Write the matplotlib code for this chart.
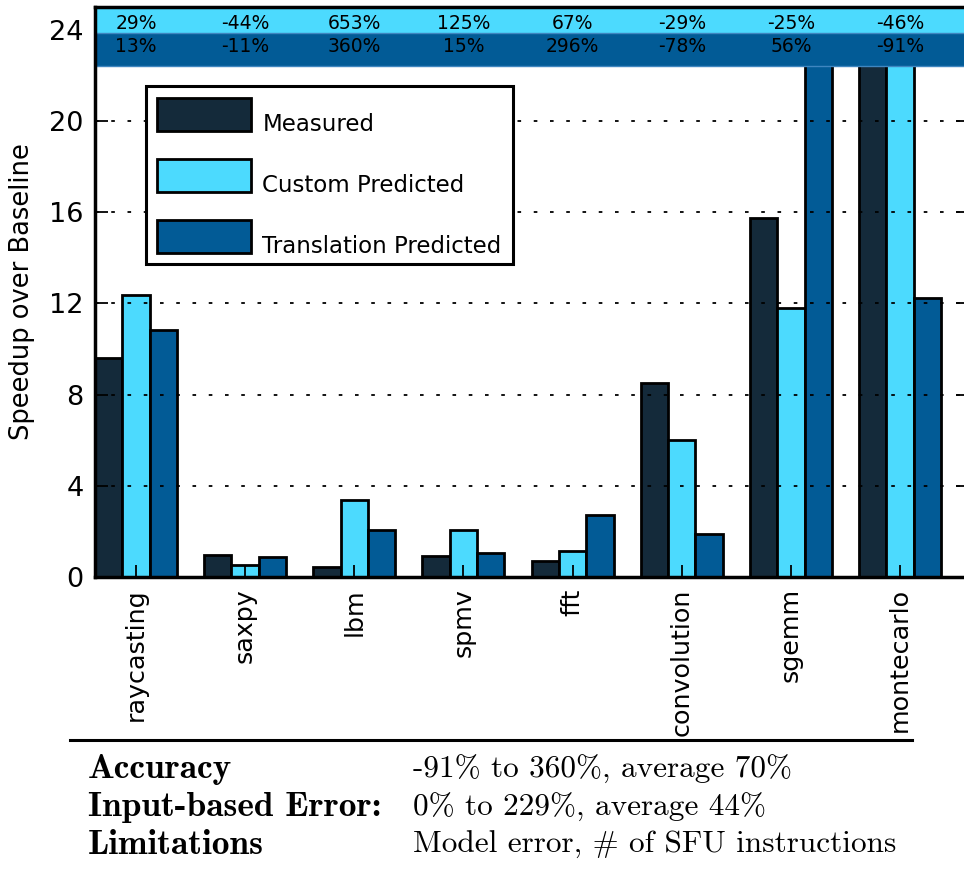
import numpy as np
import matplotlib.pyplot as plt
from matplotlib.lines import Line2D
from matplotlib.transforms import ScaledTranslation

benchmarks = ['raycasting', 'saxpy', 'lbm', 'spmv', 'fft', 'convolution', 'sgemm', 'montecarlo']
measured = [9.6, 0.96, 0.45, 0.92, 0.69, 8.5, 15.75, 135.8]
custom = [12.37, 0.54, 3.39, 2.08, 1.16, 6.0, 11.8, 73.3]
translation = [10.85, 0.86, 2.07, 1.06, 2.73, 1.9, 24.6, 12.22]
custom_err = ['29%', '-44%', '653%', '125%', '67%', '-29%', '-25%', '-46%']
translation_err = ['13%', '-11%', '360%', '15%', '296%', '-78%', '56%', '-91%']

table_rows = [('Accuracy', '-91% to 360%, average 70%'),
              ('Input-based Error:', '0% to 229%, average 44%'),
              ('Limitations', 'Model error, # of SFU instructions')]

c_meas = '#142a3a'
c_cust = '#4cdafe'
c_trans = '#025b96'

fig = plt.figure(figsize=(9.64, 8.71), dpi=100)
ax = fig.add_axes([0.0985, 0.3375, 0.906, 0.6545])

x = np.arange(len(benchmarks))
w = 0.25
ax.bar(x, measured, w, align='edge', color=c_meas, edgecolor='black', lw=2, label='Measured', zorder=2)
ax.bar(x + w, custom, w, align='edge', color=c_cust, edgecolor='black', lw=2, label='Custom Predicted', zorder=2)
ax.bar(x + 2 * w, translation, w, align='edge', color=c_trans, edgecolor='black', lw=2, label='Translation Predicted', zorder=2)

# error bands across the top
ax.axhspan(23.85, 25, color=c_cust, zorder=3, lw=0)
ax.axhspan(22.4, 23.85, facecolor=c_trans, edgecolor='#3f86c0', lw=1, zorder=3)
for i in range(len(benchmarks)):
    ax.text(i + 1.5 * w, 24.28, custom_err[i], ha='center', va='center', fontsize=13.5, zorder=6)
    ax.text(i + 1.5 * w, 23.28, translation_err[i], ha='center', va='center', fontsize=13.5, zorder=6)

ax.set_xlim(0, 8)
ax.set_ylim(0, 25)
ax.set_yticks([0, 4, 8, 12, 16, 20, 24])
ax.set_xticks(x + 1.5 * w)
ax.set_xticklabels(benchmarks, rotation=90, fontsize=18.3)
ax.tick_params(axis='y', labelsize=19.5)
ax.tick_params(direction='in', length=9, width=1.3, top=True, right=True, pad=8)
ax.set_ylabel('Speedup over Baseline', fontsize=18.5, labelpad=10)
for s in ax.spines.values():
    s.set_linewidth(2.5)
    s.set_zorder(7)

ax.yaxis.grid(True, color='black', linestyle=(0, (2, 7)), lw=1.3, zorder=5)
ax.set_axisbelow(False)
for gl in ax.get_ygridlines():
    gl.set_zorder(5)

leg = ax.legend(loc='upper left', bbox_to_anchor=(0.058, 0.861), borderaxespad=0,
                fontsize=16.5, handlelength=4.09, handleheight=1.84, labelspacing=1.22,
                handletextpad=0.5, borderpad=0.5, fancybox=False, framealpha=1)
leg.get_frame().set_edgecolor('black')
leg.get_frame().set_linewidth(2.2)
leg.set_zorder(8)
# labels sit on the bottom edge of their swatches
for t in leg.get_texts():
    t.set_transform(t.get_transform() + ScaledTranslation(0, -7 / 72, fig.dpi_scale_trans))

# summary table under the chart
fig.add_artist(Line2D([70 / 964, 912 / 964], [1 - 740 / 871] * 2, color='black', lw=2.2))
for k, (name, desc) in enumerate(table_rows):
    yy = 1 - (769 + 38 * k) / 871
    fig.text(88 / 964, yy, name, family=['cmb10', 'DejaVu Serif'], fontsize=25.5, va='center')
    fig.text(413 / 964, yy, desc, family=['cmr10', 'DejaVu Serif'], fontsize=22.5, va='center')

fig.savefig('out.png', dpi=100)
